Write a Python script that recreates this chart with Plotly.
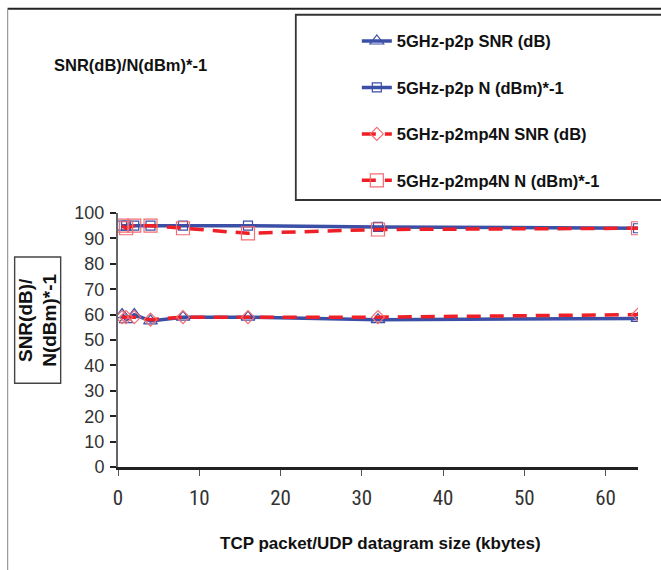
import plotly.graph_objects as go

# ---- data ----
sizes_kb = [0.5, 1, 2, 4, 8, 16, 32, 64]
p2p_snr = [60, 58, 60, 57.5, 59, 59, 58, 58.5]
p2p_noise = [95, 95, 95, 95, 95, 95, 94.5, 94]
p2mp_snr = [59, 59, 59, 58, 59, 59, 59, 60]
p2mp_noise = [95, 94, 95, 95, 94, 92, 93.5, 94]

names = ["5GHz-p2p SNR (dB)", "5GHz-p2p N (dBm)*-1",
         "5GHz-p2mp4N SNR (dB)", "5GHz-p2mp4N N (dBm)*-1"]
x_ticks = [0, 10, 20, 30, 40, 50, 60]
y_ticks = list(range(0, 101, 10))

W, H = 661, 570
X0, X1, YT, YB = 118.3, 638.0, 213.0, 466.7
PW, PH = X1 - X0, YB - YT


def px(x):
    return (x - X0) / PW


def py(y):
    return (YB - y) / PH


BLUE = "#3b4fa6"
RED = "#ee1f26"
FONT = "Liberation Sans, Arial"

fig = go.Figure()
fig.add_trace(go.Scatter(
    x=sizes_kb, y=p2p_snr, name="<b>" + names[0] + "</b>", mode="lines+markers",
    legendgroup="a",
    line=dict(color=BLUE, width=3.5),
    marker=dict(symbol="triangle-up-open", size=12, color=BLUE, line=dict(width=1.2))))
fig.add_trace(go.Scatter(
    x=sizes_kb, y=p2p_noise, name="<b>" + names[1] + "</b>", mode="lines+markers",
    legendgroup="b",
    line=dict(color=BLUE, width=3.5),
    marker=dict(symbol="square-open", size=9, color=BLUE, line=dict(width=1.2))))
fig.add_trace(go.Scatter(
    x=sizes_kb, y=p2mp_snr, name="<b>" + names[2] + "</b>", mode="lines+markers",
    legendgroup="c",
    line=dict(color=RED, width=3.5, dash="14px,9px"),
    marker=dict(symbol="diamond-open", size=10, color="#f26d72", line=dict(width=1.2))))
fig.add_trace(go.Scatter(
    x=sizes_kb, y=p2mp_noise, name="<b>" + names[3] + "</b>", mode="lines+markers",
    legendgroup="d",
    line=dict(color=RED, width=3.5, dash="14px,9px"),
    marker=dict(symbol="square-open", size=13, color="#f26d72", line=dict(width=1.2))))

shapes = [
    # outer chart frame (top and left visible)
    dict(type="line", xref="paper", yref="paper", x0=px(8), x1=px(700), y0=py(9), y1=py(9),
         line=dict(color="#222", width=1.8)),
    dict(type="line", xref="paper", yref="paper", x0=px(8), x1=px(8), y0=py(9), y1=py(620),
         line=dict(color="#999", width=1.2)),
    # legend box
    dict(type="rect", xref="paper", yref="paper", x0=px(296), x1=px(700), y0=py(15), y1=py(200),
         line=dict(color="#333", width=1.8), fillcolor="rgba(0,0,0,0)"),
    # y title box
    dict(type="rect", xref="paper", yref="paper", x0=px(15), x1=px(61), y0=py(257), y1=py(383),
         line=dict(color="#444", width=1.4), fillcolor="rgba(0,0,0,0)"),
]

annotations = [
    dict(text="<b>SNR(dB)/N(dBm)*-1</b>", xref="paper", yref="paper",
         x=px(52), y=py(65), xanchor="left", yanchor="middle", showarrow=False,
         font=dict(family=FONT, size=16.5, color="#111")),
    dict(text="<b>SNR(dB)/<br>N(dBm)*-1</b>", xref="paper", yref="paper",
         x=px(38), y=py(320), xanchor="center", yanchor="middle", showarrow=False,
         textangle=-90,
         font=dict(family=FONT, size=19, color="#111")),
    dict(text="<b>TCP packet/UDP datagram size (kbytes)</b>", xref="paper", yref="paper",
         x=px(381), y=py(543), xanchor="center", yanchor="middle", showarrow=False,
         font=dict(family=FONT, size=17, color="#111")),
]

fig.update_layout(
    width=W, height=H,
    margin=dict(l=X0, r=W - X1, t=YT, b=H - YB, pad=0, autoexpand=False),
    paper_bgcolor="white", plot_bgcolor="white",
    shapes=shapes, annotations=annotations,
    showlegend=True,
    legend=dict(x=px(357), y=py(24), xanchor="left", yanchor="top",
                traceorder="grouped", tracegroupgap=22,
                bgcolor="rgba(0,0,0,0)", borderwidth=0,
                itemwidth=30,
                font=dict(family=FONT, size=16.5, color="#111")),
    xaxis=dict(range=[0, 64], tickvals=x_ticks, ticktext=[str(v) for v in x_ticks],
               automargin=False,
               showgrid=False, zeroline=False, showline=True, linecolor="#222", linewidth=2.5,
               ticks="outside", ticklen=6, tickwidth=1.2, tickcolor="#555",
               tickfont=dict(family="Liberation Sans Narrow, Arial Narrow, Roboto Condensed, Liberation Sans",
                             size=21, color="#333"),
               ticklabelstandoff=4),
    yaxis=dict(range=[0, 100], tickvals=y_ticks, ticktext=[str(v) for v in y_ticks],
               automargin=False,
               showgrid=False, zeroline=False, showline=True, linecolor="#666", linewidth=2,
               ticks="outside", ticklen=6, tickwidth=2, tickcolor="#222",
               tickfont=dict(family=FONT, size=18, color="#333"),
               ticklabelstandoff=2),
)

fig.write_html("out.html", config={"displayModeBar": False},
               post_script="document.body.style.margin='0';document.body.style.overflow='hidden';")
